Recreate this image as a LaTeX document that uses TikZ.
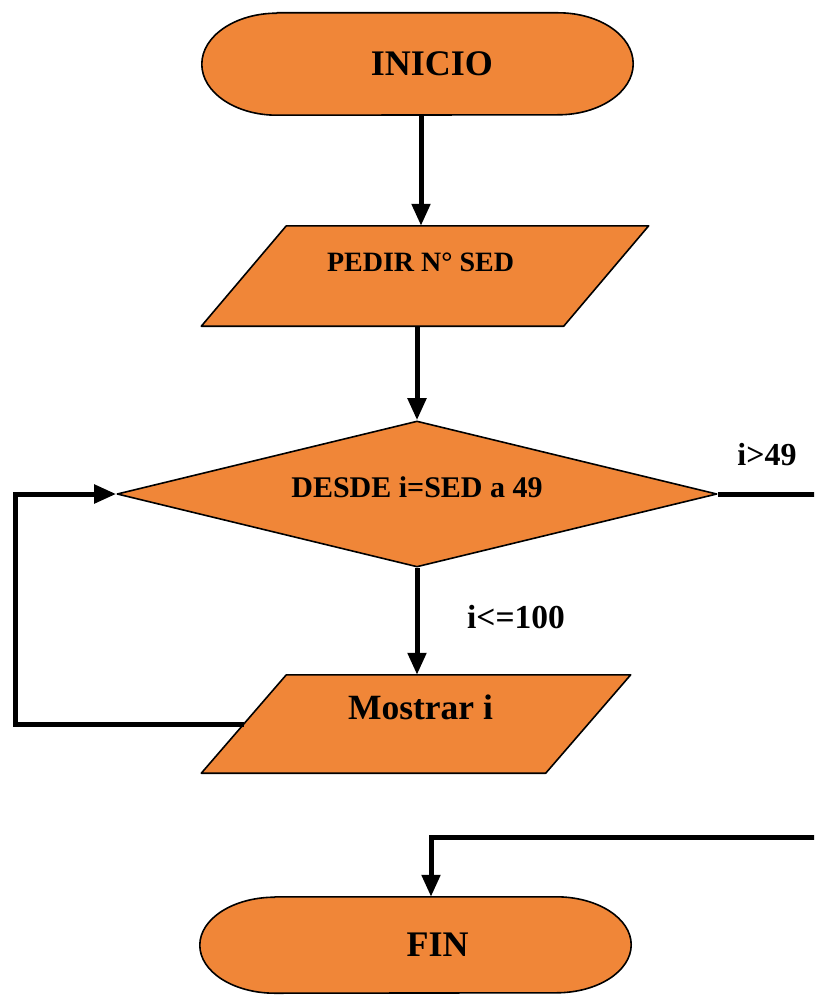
\documentclass[tikz,border=0pt]{standalone}
\usepackage{fontspec}
\setmainfont{Liberation Serif}
\usetikzlibrary{arrows.meta,calc,shapes.geometric}
\definecolor{boxorange}{RGB}{240,134,56}
\pgfdeclarelayer{paper}
\pgfdeclarelayer{shapes}
\pgfsetlayers{paper,shapes,main}
\tikzset{
  txt/.style={inner sep=0pt, font=\bfseries\fontsize{#1}{#1}\selectfont},
  body/.style={draw=none, fill=none, inner sep=0pt, anchor=center},
  outline/.style={draw=black, line width=1.6pt, fill=boxorange, line join=round},
  flow/.style={draw=black, line width=5pt, -{Triangle[length=22pt,width=18pt]}},
}
% stadium with elliptical ends (#2 = half height), drawn behind a named node
\newcommand\terminalshape[2]{%
  \begin{pgfonlayer}{shapes}
  \path[outline] ($(#1.north west)+(75pt,0)$) -- ($(#1.north east)+(-75pt,0)$)
    arc[start angle=90, end angle=-90, x radius=75pt, y radius=#2]
    -- ($(#1.south west)+(75pt,0)$)
    arc[start angle=270, end angle=90, x radius=75pt, y radius=#2]
    -- cycle;
  \end{pgfonlayer}}
% input/output parallelogram, top edge shifted right
\newcommand\ioshape[1]{%
  \begin{pgfonlayer}{shapes}
  \path[outline] ($(#1.north west)+(42.5pt,0)$) -- ($(#1.north east)+(42.5pt,0)$)
    -- ($(#1.south east)+(-42.5pt,0)$) -- ($(#1.south west)+(-42.5pt,0)$) -- cycle;
  \end{pgfonlayer}}
\begin{document}
\begin{tikzpicture}[x=1pt,y=-1pt]
\useasboundingbox (0,0) rectangle (814,995);
\begin{pgfonlayer}{paper}
  \fill[white] (0,0) rectangle (814,995);
\end{pgfonlayer}
\clip (0,0) rectangle (814,995);

% nodes
\node[body, txt=36, minimum width=431pt, minimum height=102pt] (inicio) at (417.5,64) {\hspace*{29pt}INICIO};
\node[body, txt=28, minimum width=362pt, minimum height=100pt, text depth=28pt] (pedir) at (425,276) {PEDIR N° SED\hspace*{9pt}};
\node[diamond, outline, txt=30, aspect=4.1, minimum width=600pt, minimum height=146pt, text depth=14pt] (desde) at (417,494) {DESDE i=SED a 49};
\node[body, txt=35.5, minimum width=344pt, minimum height=98pt, text depth=34pt] (mostrar) at (416,724) {\hspace*{9pt}Mostrar i};
\node[body, txt=36, minimum width=431pt, minimum height=96pt] (fin) at (415.5,945) {\hspace*{44pt}FIN};

% shape outlines
\terminalshape{inicio}{51pt}
\ioshape{pedir}
\ioshape{mostrar}
\terminalshape{fin}{48pt}

% labels
\node[txt=33.5] (menor) at (516,617) {i<=100};
\node[txt=32] (mayor) at (767,455) {i>49};

% connectors
\coordinate (col) at (421,0);
\coordinate (loopL) at (15,0);
\coordinate (exitR) at (822,837);
\coordinate (finIn) at (431,0);
\draw[flow] (inicio.south -| col) -- (pedir.north -| col);
\draw[flow] (pedir.south -| desde.north) -- (desde.north);
\draw[flow] (desde.south) -- (mostrar.north -| desde.south);
\draw[flow] (mostrar.west) -- (mostrar.west -| loopL) -- (desde.west -| loopL) -- (desde.west);
\draw[flow] (desde.east) -- (desde.east -| exitR) -- (exitR) -- (exitR -| finIn) -- (fin.north -| finIn);
\end{tikzpicture}
\end{document}
